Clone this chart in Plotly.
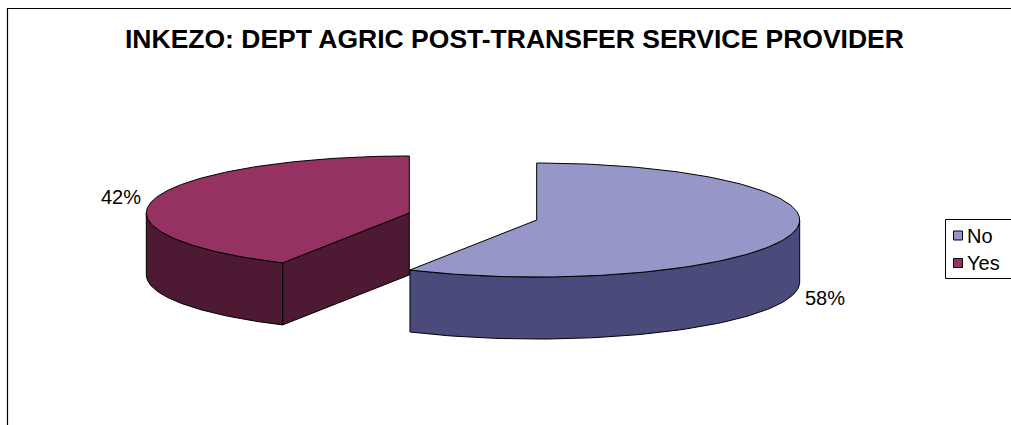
import numpy as np
import plotly.graph_objects as go

# ---- data ----
labels = ["No", "Yes"]
values = [58, 42]
top_colors = ["#9696C8", "#953262"]
side_colors = ["#4A4A7B", "#4E1932"]
title_text = "INKEZO: DEPT AGRIC POST-TRANSFER SERVICE PROVIDER"

# ---- geometry of the 3-D pie (pixel space) ----
W, H = 1011, 425
CX, CY = 473, 216.5
RX, RY = 263, 57
DEPTH = 62
EXPLODE = 0.25
FONT = "Arial, Liberation Sans, sans-serif"

total = float(sum(values))
fig = go.Figure()


def ell(cx, cy, th, dz=0.0):
    th = np.asarray(th)
    return cx + RX * np.sin(th), cy - RY * np.cos(th) + dz


def poly(xs, ys, color, name=None):
    fig.add_trace(go.Scatter(
        x=list(xs) + [xs[0]], y=list(ys) + [ys[0]], mode="lines",
        fill="toself", fillcolor=color,
        line=dict(color="black", width=1), hoverinfo="skip",
        showlegend=False, name=name or ""))


# build slices
slices = []
start = 0.0
for lab, v, tc, sc in zip(labels, values, top_colors, side_colors):
    a0 = start
    a1 = start + 2 * np.pi * v / total
    mid = 0.5 * (a0 + a1)
    cx = CX + EXPLODE * RX * np.sin(mid)
    cy = CY - EXPLODE * RY * np.cos(mid)
    slices.append(dict(lab=lab, v=v, a0=a0, a1=a1, mid=mid, cx=cx, cy=cy, tc=tc, sc=sc))
    start = a1

labels_ann = []
for s in sorted(slices, key=lambda d: d["cy"]):
    a0, a1, cx, cy = s["a0"], s["a1"], s["cx"], s["cy"]
    # radial face at start edge
    if np.sin(a0) < -1e-9:
        px, py = ell(cx, cy, a0)
        poly([cx, px, px, cx], [cy, py, py + DEPTH, cy + DEPTH], s["sc"])
    if np.sin(a1) > 1e-9:
        px, py = ell(cx, cy, a1)
        poly([cx, px, px, cx], [cy, py, py + DEPTH, cy + DEPTH], s["sc"])
    # visible outer wall (front half of ellipse)
    w0, w1 = max(a0, np.pi / 2), min(a1, 3 * np.pi / 2)
    if w1 > w0:
        th = np.linspace(w0, w1, 80)
        tx, ty = ell(cx, cy, th)
        bx, by = ell(cx, cy, th[::-1], DEPTH)
        poly(np.concatenate([tx, bx]), np.concatenate([ty, by]), s["sc"])
    # top face
    th = np.linspace(a0, a1, 160)
    tx, ty = ell(cx, cy, th)
    poly(np.concatenate([[cx], tx]), np.concatenate([[cy], ty]), s["tc"], s["lab"])
    # percentage label
    lx, ly = ell(cx, cy, s["mid"])
    lx = cx + 1.13 * (lx - cx)
    ly = cy + 1.13 * (ly - cy) + (DEPTH if np.cos(s["mid"]) < 0 else 0)
    labels_ann.append(dict(x=lx, y=ly, text=f"{round(100 * s['v'] / total)}%",
                           showarrow=False, xref="x", yref="y",
                           font=dict(family=FONT, size=20, color="black")))

# ---- legend (drawn by hand to match the original box) ----
shapes = [
    dict(type="rect", xref="x", yref="y", x0=7.5, y0=8.5, x1=1030, y1=440,
         line=dict(color="black", width=1.2), fillcolor="rgba(0,0,0,0)", layer="below"),
    dict(type="rect", xref="x", yref="y", x0=945.5, y0=219.5, x1=1015, y1=278.5,
         line=dict(color="black", width=1), fillcolor="white", layer="below"),
]
leg_ann = []
for i, (lab, tc) in enumerate(zip(labels, top_colors)):
    yc = 235.5 + 27.5 * i
    shapes.append(dict(type="rect", xref="x", yref="y", x0=953.5, x1=962.5,
                       y0=yc - 4.5, y1=yc + 4.5, line=dict(color="black", width=1),
                       fillcolor=tc))
    leg_ann.append(dict(x=965, y=yc, xanchor="left", text=lab, showarrow=False,
                        xref="x", yref="y", font=dict(family=FONT, size=20, color="black")))

title_ann = dict(x=514, y=39, text=f"<b>{title_text}</b>", showarrow=False,
                 xref="x", yref="y", font=dict(family=FONT, size=26.5, color="black"))

fig.update_layout(
    width=W, height=H, autosize=False,
    margin=dict(l=0, r=0, t=0, b=0),
    paper_bgcolor="white", plot_bgcolor="white",
    xaxis=dict(range=[0, W], visible=False, fixedrange=True),
    yaxis=dict(range=[H, 0], visible=False, fixedrange=True),
    showlegend=False,
    shapes=shapes,
    annotations=[title_ann] + labels_ann + leg_ann,
)

fig.write_html("out.html", config={"displayModeBar": False})
